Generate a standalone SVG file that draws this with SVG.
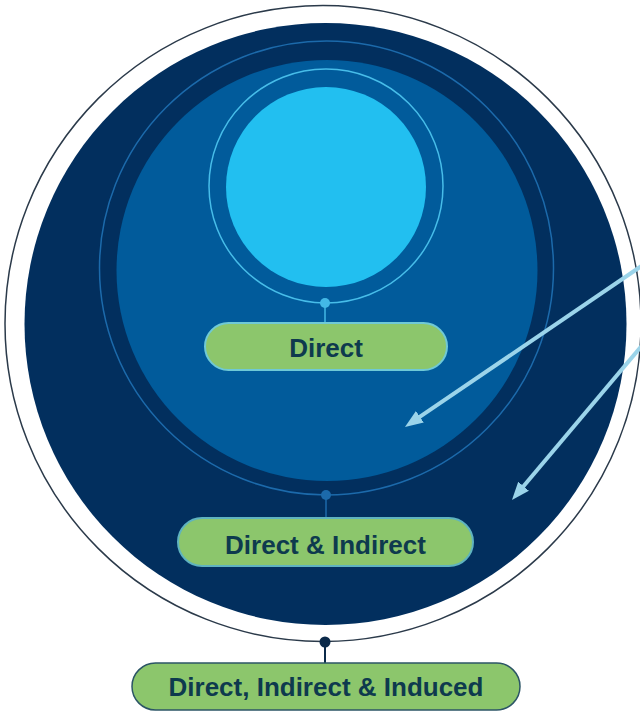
<svg xmlns="http://www.w3.org/2000/svg" width="640" height="712" viewBox="0 0 640 712">
  <style>
    .pill-text { font-family: "Liberation Sans", Arial, sans-serif; font-weight: bold; font-size: 26px; fill: #0e3a4e; text-anchor: middle; }
    .pill { fill: #8cc66c; }
    .arrow { stroke: #9bd4ea; stroke-width: 4; fill: none; marker-end: url(#head); }
  </style>
  <defs>
    <marker id="head" markerUnits="userSpaceOnUse" markerWidth="18" markerHeight="16" viewBox="0 0 18 16" refX="6" refY="8" orient="auto">
      <path d="M0,1 L18,8 L0,15 z" fill="#9bd4ea"/>
    </marker>
  </defs>

  <rect width="640" height="712" fill="#ffffff"/>

  <!-- nested rings -->
  <g id="ring-induced">
    <circle cx="323" cy="323.5" r="318" fill="none" stroke="#2b3a4a" stroke-width="1.5"/>
    <circle cx="325.5" cy="324" r="301" fill="#022f5e"/>
  </g>
  <g id="ring-indirect">
    <circle cx="326.5" cy="268" r="227" fill="none" stroke="#1c6aab" stroke-width="1.5"/>
    <circle cx="327" cy="270.5" r="210.5" fill="#015b9b"/>
  </g>
  <g id="ring-direct">
    <circle cx="326" cy="186" r="117" fill="none" stroke="#47bde9" stroke-width="1.5"/>
    <circle cx="326" cy="187" r="100" fill="#22bff0"/>
  </g>

  <!-- stems and dots joining each ring to its label -->
  <g id="connectors">
    <line x1="325" y1="303" x2="325" y2="324" stroke="#43b8e6" stroke-width="1.5"/>
    <circle cx="325" cy="303" r="5" fill="#43b8e6"/>
    <line x1="326" y1="495" x2="326" y2="519" stroke="#1c6aab" stroke-width="1.5"/>
    <circle cx="326" cy="495" r="5" fill="#1c6aab"/>
    <line x1="325" y1="642" x2="325" y2="664" stroke="#0b2a4a" stroke-width="2"/>
    <circle cx="325" cy="642" r="5.5" fill="#0b2a4a"/>
    <line class="arrow" x1="643" y1="265" x2="414.9" y2="420.2"/>
    <line class="arrow" x1="642" y1="345.6" x2="519.7" y2="490.8"/>
  </g>

  <!-- labels -->
  <g id="label-direct">
    <rect class="pill" x="205" y="323" width="242" height="47" rx="23.5" stroke="#6fc9d6" stroke-width="2"/>
    <text class="pill-text" x="326" y="357">Direct</text>
  </g>
  <g id="label-direct-indirect">
    <rect class="pill" x="178" y="518" width="295" height="48" rx="24" stroke="#5fb3bf" stroke-width="2"/>
    <text class="pill-text" x="325.5" y="554">Direct &amp; Indirect</text>
  </g>
  <g id="label-direct-indirect-induced">
    <rect class="pill" x="132" y="663" width="388" height="47" rx="23.5" stroke="#2c5566" stroke-width="1.5"/>
    <text class="pill-text" x="326" y="696">Direct, Indirect &amp; Induced</text>
  </g>
</svg>
